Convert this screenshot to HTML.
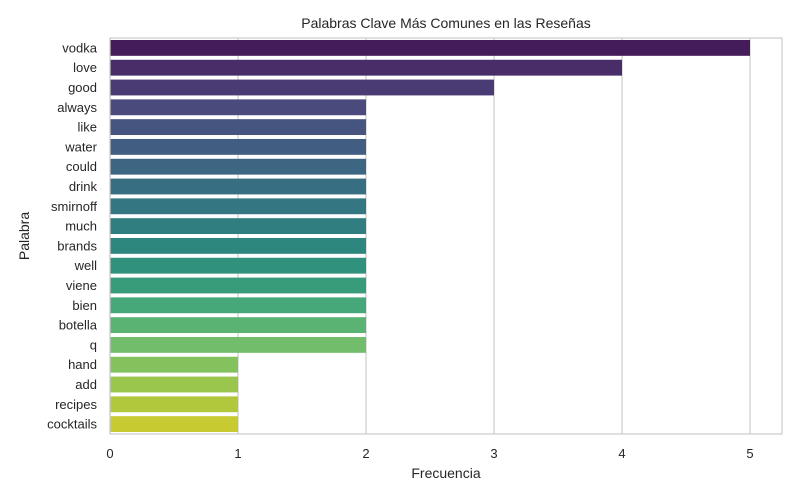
<!DOCTYPE html>
<html><head><meta charset="utf-8"><style>
body{margin:0;background:#fff;}
svg{display:block;font-family:"Liberation Sans","DejaVu Sans",sans-serif;}
</style></head><body>
<svg id="chart" width="800" height="500">
<text x="446" y="28" text-anchor="middle" font-size="14" fill="#262626">Palabras Clave Más Comunes en las Reseñas</text>
<text x="446" y="478" text-anchor="middle" font-size="14" fill="#262626">Frecuencia</text>
<text x="29" y="236" text-anchor="middle" font-size="14" fill="#262626" transform="rotate(-90 29 236)">Palabra</text>
<g id="grid"></g><g id="bars"></g><g id="ticks"></g>
<rect x="110" y="38" width="672" height="396" fill="none" stroke="#cccccc" stroke-width="1.2"/>
</svg>
<script>
const categories=["vodka","love","good","always","like","water","could","drink","smirnoff","much","brands","well","viene","bien","botella","q","hand","add","recipes","cocktails"];
const values=[5,4,3,2,2,2,2,2,2,2,2,2,2,2,2,2,1,1,1,1];
const xTicks=[0,1,2,3,4,5];
const X0=110,X1=782,XMAX=5.25,Y0=38,Y1=434;
const xs=v=>X0+(v/XMAX)*(X1-X0);
const step=(Y1-Y0)/categories.length;
const yc=i=>Y0+step*(i+0.5);
const stops=["#440154","#471365","#482475","#463480","#414487","#3b528b","#355f8d","#2f6c8e","#2a788e","#25848e","#21918c","#1e9c89","#22a884","#2fb47c","#44bf70","#5ec962","#7ad151","#9bd93c","#bddf26","#dfe318","#fde725"];
function desat(r,g,b,s){r/=255;g/=255;b/=255;const mx=Math.max(r,g,b),mn=Math.min(r,g,b),l=(mx+mn)/2;
if(mx===mn)return [r,g,b].map(v=>Math.round(v*255));
const d=mx-mn;let S=l>0.5?d/(2-mx-mn):d/(mx+mn);let h;
if(mx===r)h=((g-b)/d+(g<b?6:0));else if(mx===g)h=(b-r)/d+2;else h=(r-g)/d+4;h/=6;S*=s;
const q=l<0.5?l*(1+S):l+S-l*S,p=2*l-q;
const f=t=>{if(t<0)t+=1;if(t>1)t-=1;if(t<1/6)return p+(q-p)*6*t;if(t<1/2)return q;if(t<2/3)return p+(q-p)*(2/3-t)*6;return p;};
return [f(h+1/3),f(h),f(h-1/3)].map(v=>Math.round(v*255));}
function vir(t){const p=t*20,i=Math.min(19,Math.floor(p)),f=p-i;
const a=stops[i],b=stops[i+1];const c=k=>parseInt(a.substr(k,2),16)*(1-f)+parseInt(b.substr(k,2),16)*f;
const o=desat(c(1),c(3),c(5),0.75);return `rgb(${o[0]},${o[1]},${o[2]})`;}
const NS="http://www.w3.org/2000/svg";
const g=document.getElementById('grid'),bg=document.getElementById('bars'),tg=document.getElementById('ticks');
xTicks.forEach(t=>{
const l=document.createElementNS(NS,'line');


l.setAttribute('x1',xs(t));l.setAttribute('x2',xs(t));l.setAttribute('y1',Y0);l.setAttribute('y2',Y1);
l.setAttribute('stroke','#cccccc');l.setAttribute('stroke-width','1.2');g.appendChild(l);
const tx=document.createElementNS(NS,'text');


tx.setAttribute('x',xs(t));tx.setAttribute('y',Y1+24);tx.setAttribute('text-anchor','middle');
tx.setAttribute('font-size','13');tx.setAttribute('fill','#262626');tx.textContent=t;tg.appendChild(tx);
});
categories.forEach((c,i)=>{
const h=step*0.8;
const r=document.createElementNS(NS,'rect');


r.setAttribute('x',xs(0));r.setAttribute('y',yc(i)-h/2);r.setAttribute('width',xs(values[i])-xs(0));r.setAttribute('height',h);
r.setAttribute('fill',vir((i+1)/(categories.length+1)));bg.appendChild(r);
const tx=document.createElementNS(NS,'text');


tx.setAttribute('x',X0-13);tx.setAttribute('y',yc(i)+4.5);tx.setAttribute('text-anchor','end');
tx.setAttribute('font-size','13');tx.setAttribute('fill','#262626');tx.textContent=c;tg.appendChild(tx);
});
</script>
</body></html>
